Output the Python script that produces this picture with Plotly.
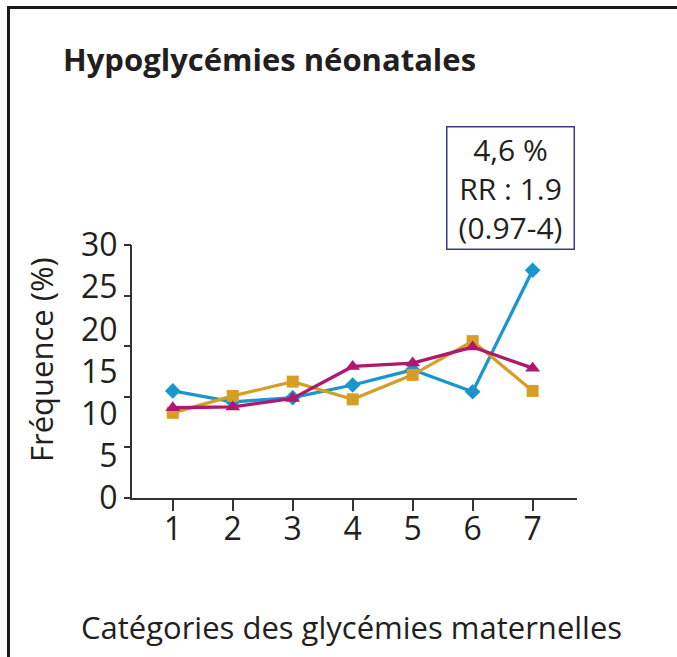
import plotly.graph_objects as go

# Maternal glycaemia categories and neonatal hypoglycaemia frequency (%)
categories = [1, 2, 3, 4, 5, 6, 7]
serie_bleue = [12.7, 11.4, 11.9, 13.4, 15.2, 12.6, 27.0]
serie_orange = [10.1, 12.1, 13.8, 11.7, 14.6, 18.6, 12.7]
serie_magenta = [10.7, 10.8, 11.8, 15.6, 16.0, 17.9, 15.4]

y_labels = [0, 5, 10, 15, 20, 25, 30]
y_tick_marks = [0, 6, 12, 18, 24, 30]

encadre = ["4,6 %", "RR : 1.9", "(0.97-4)"]

INK = "#231f20"
AXIS = "#333333"
FONT = "Open Sans, sans-serif"

# plot area in pixels
W, H = 677, 657
L, R, T, B = 132, 100, 245, 159
pw, ph = W - L - R, H - T - B


def px_x(px):
    return (px - L) / pw


def px_y(py):
    return (H - B - py) / ph


fig = go.Figure()

styles = [
    (serie_bleue, "#1a96cc", "diamond", 12),
    (serie_orange, "#d69e24", "square", 12),
    (serie_magenta, "#b0176e", "triangle-up", 13),
]
for vals, col, sym, size in styles:
    fig.add_trace(go.Scatter(
        x=categories, y=vals, mode="lines+markers",
        line=dict(color=col, width=3.3),
        marker=dict(symbol=sym, size=size, color=col),
        showlegend=False, hoverinfo="skip", cliponaxis=False,
    ))

# empty trace so the overlaid tick-mark axis is rendered
fig.add_trace(go.Scatter(x=[], y=[], yaxis="y2", showlegend=False, hoverinfo="skip"))

fig.update_layout(
    width=W, height=H,
    margin=dict(l=L, r=R, t=T, b=B),
    paper_bgcolor="white", plot_bgcolor="white",
    font=dict(family=FONT, color=INK),
    title=dict(
        text="<b>Hypoglycémies néonatales</b>",
        font=dict(family=FONT, size=31, color=INK),
        x=63 / W, xanchor="left", xref="container",
        y=1 - 60 / H, yanchor="middle",
    ),
    xaxis=dict(
        range=[0.32, 7.74], tickvals=categories, ticktext=[str(c) for c in categories],
        showgrid=False, zeroline=False, showline=True, linecolor=AXIS, linewidth=2,
        ticks="outside", ticklen=11, tickwidth=2, tickcolor=AXIS,
        tickfont=dict(family=FONT, size=32, color=INK),
        ticklabelstandoff=-9,
    ),
    yaxis=dict(
        range=[0, 30], tickvals=y_labels, ticktext=[str(v) for v in y_labels],
        showgrid=False, zeroline=False, showline=True, linecolor=AXIS, linewidth=2,
        ticks="", tickfont=dict(family=FONT, size=32, color=INK),
        ticklabelstandoff=6,
    ),
    yaxis2=dict(
        range=[0, 30], overlaying="y", side="left", tickvals=y_tick_marks,
        showticklabels=False, showgrid=False, zeroline=False, showline=False,
        ticks="outside", ticklen=7, tickwidth=2, tickcolor=AXIS,
    ),
)

# axis titles
fig.add_annotation(
    text="Catégories des glycémies maternelles", xref="paper", yref="paper",
    x=px_x(351), y=px_y(627), xanchor="center", yanchor="middle", showarrow=False,
    font=dict(family=FONT, size=31, color=INK),
)
fig.add_annotation(
    text="Fréquence (%)", xref="paper", yref="paper",
    x=px_x(41), y=px_y(360), xanchor="center", yanchor="middle",
    showarrow=False, textangle=-90,
    font=dict(family=FONT, size=31, color=INK),
)

# boxed note above category 7
fig.add_annotation(
    text="<br>".join(encadre), xref="paper", yref="paper",
    x=px_x(510), y=px_y(188), xanchor="center", yanchor="middle", showarrow=False,
    width=120, height=115, borderpad=3, borderwidth=1.5,
    bordercolor="#3c3a8c", bgcolor="white",
    font=dict(family=FONT, size=30, color=INK), align="center",
)

# outer frame (left and top edges visible)
fig.add_shape(
    type="rect", xref="paper", yref="paper",
    x0=px_x(8.5), x1=px_x(700), y0=px_y(690), y1=px_y(7.5),
    line=dict(color="#1a1a1a", width=3),
)

fig.write_html("out.html")
